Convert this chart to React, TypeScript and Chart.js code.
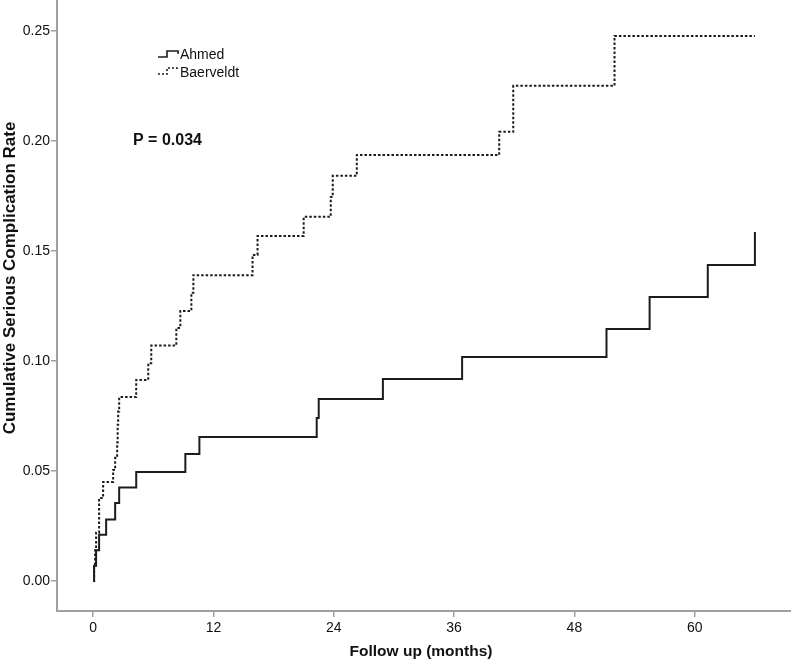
import React, { useEffect, useRef } from "react";
import { Chart, registerables } from "chart.js";

Chart.register(...registerables);

const ahmedMonths = [0, 0.1, 0.3, 0.6, 1.3, 2.2, 2.6, 4.3, 9.2, 10.6, 22.3, 22.5, 28.9, 36.8, 51.2, 55.5, 61.3, 66.0];
const ahmedRate = [0, 0.007, 0.014, 0.021, 0.028, 0.0355, 0.0425, 0.0495, 0.0577, 0.0655, 0.0741, 0.0827, 0.0918, 0.1018, 0.1145, 0.1291, 0.1436, 0.1586];

const baerveldtMonths = [0, 0.1, 0.2, 0.3, 0.6, 1.0, 2.0, 2.2, 2.4, 2.45, 2.5, 2.6, 4.3, 5.5, 5.8, 8.3, 8.7, 9.8, 10.0, 15.9, 16.4, 21.0, 23.7, 23.9, 26.3, 40.5, 41.9, 52.0, 66.0];
const baerveldtRate = [0, 0.007, 0.014, 0.022, 0.0377, 0.045, 0.0505, 0.056, 0.063, 0.071, 0.077, 0.0836, 0.0914, 0.099, 0.107, 0.115, 0.1227, 0.131, 0.139, 0.1482, 0.1568, 0.1655, 0.1745, 0.1841, 0.1936, 0.2041, 0.225, 0.2477, 0.2477];

const xTicks = [0, 12, 24, 36, 48, 60];
const yTicks = [0, 0.05, 0.1, 0.15, 0.2, 0.25];
const seriesNames = ["Ahmed", "Baerveldt"];
const pValueText = "P = 0.034";
const xTitle = "Follow up (months)";
const yTitle = "Cumulative Serious Complication Rate";

const FONT = "'Liberation Sans', Arial, sans-serif";
const LINE = "#1c1c1c";
const AXIS = "#a0a0a0";

const annotations = {
  id: "annotations",
  afterDraw(chart: any) {
    const ctx = chart.ctx as CanvasRenderingContext2D;
    ctx.save();
    ctx.strokeStyle = LINE;
    ctx.lineWidth = 1.6;
    ctx.setLineDash([]);
    ctx.beginPath();
    ctx.moveTo(158, 57);
    ctx.lineTo(167, 57);
    ctx.lineTo(167, 51);
    ctx.lineTo(178, 51);
    ctx.lineTo(178, 54);
    ctx.stroke();
    ctx.setLineDash([2, 2]);
    ctx.beginPath();
    ctx.moveTo(158, 74);
    ctx.lineTo(167, 74);
    ctx.lineTo(167, 68);
    ctx.lineTo(177, 68);
    ctx.lineTo(177, 71);
    ctx.stroke();
    ctx.setLineDash([]);
    ctx.fillStyle = "#111";
    ctx.textBaseline = "middle";
    ctx.textAlign = "left";
    ctx.font = `14px ${FONT}`;
    ctx.fillText(seriesNames[0], 180, 55);
    ctx.fillText(seriesNames[1], 180, 73);
    ctx.font = `bold 16px ${FONT}`;
    ctx.fillText(pValueText, 133, 141);
    ctx.textAlign = "center";
    ctx.font = `bold 15.5px ${FONT}`;
    ctx.fillText(xTitle, 421, 652);
    ctx.translate(10, 278);
    ctx.rotate(-Math.PI / 2);
    ctx.font = `bold 17px ${FONT}`;
    ctx.fillText(yTitle, 0, 0);
    ctx.restore();
  },
};

export default function App() {
  const ref = useRef<HTMLCanvasElement | null>(null);

  useEffect(() => {
    if (!ref.current) return;
    const ahmed = ahmedMonths.map((m, i) => ({ x: m, y: ahmedRate[i] }));
    const baer = baerveldtMonths.map((m, i) => ({ x: m, y: baerveldtRate[i] }));
    const chart = new Chart(ref.current, {
      type: "line",
      data: {
        datasets: [
          {
            label: seriesNames[0],
            data: ahmed,
            stepped: "before",
            borderColor: LINE,
            borderWidth: 2,
            pointRadius: 0,
            fill: false,
          },
          {
            label: seriesNames[1],
            data: baer,
            stepped: "before",
            borderColor: LINE,
            borderWidth: 2,
            borderDash: [2.5, 2],
            pointRadius: 0,
            fill: false,
          },
        ],
      },
      plugins: [annotations],
      options: {
        animation: false,
        responsive: false,
        devicePixelRatio: 1,
        layout: { padding: 0 },
        plugins: {
          legend: { display: false },
          tooltip: { enabled: false },
        },
        scales: {
          x: {
            type: "linear",
            min: -3.6,
            max: 69.6,
            afterBuildTicks: (scale: any) => {
              scale.ticks = xTicks.map((v) => ({ value: v }));
            },
            afterFit: (scale: any) => {
              scale.height = 50;
              scale.paddingLeft = 0;
              scale.paddingRight = 0;
            },
            grid: {
              display: true,
              drawOnChartArea: false,
              drawTicks: true,
              tickLength: 6,
              color: AXIS,
              lineWidth: 1.5,
            },
            border: { display: true, color: AXIS, width: 2 },
            ticks: {
              color: "#111",
              font: { family: FONT, size: 14 },
              padding: 3,
              maxRotation: 0,
              autoSkip: false,
            },
          },
          y: {
            type: "linear",
            min: -0.0136,
            max: 0.264,
            afterBuildTicks: (scale: any) => {
              scale.ticks = yTicks.map((v) => ({ value: v }));
            },
            afterFit: (scale: any) => {
              scale.width = 57;
              scale.paddingTop = 0;
              scale.paddingBottom = 0;
            },
            grid: {
              display: true,
              drawOnChartArea: false,
              drawTicks: true,
              tickLength: 6,
              color: AXIS,
              lineWidth: 1.5,
            },
            border: { display: true, color: AXIS, width: 2 },
            ticks: {
              color: "#111",
              font: { family: FONT, size: 14 },
              padding: 1,
              autoSkip: false,
              callback: (v: any) => Number(v).toFixed(2),
            },
          },
        },
      },
    });
    return () => chart.destroy();
  }, []);

  return (
    <div style={{ position: "fixed", left: 0, top: 0, width: 791, height: 661, background: "#fff" }}>
      <canvas ref={ref} width={791} height={661} style={{ display: "block", width: 791, height: 661 }} />
    </div>
  );
}
